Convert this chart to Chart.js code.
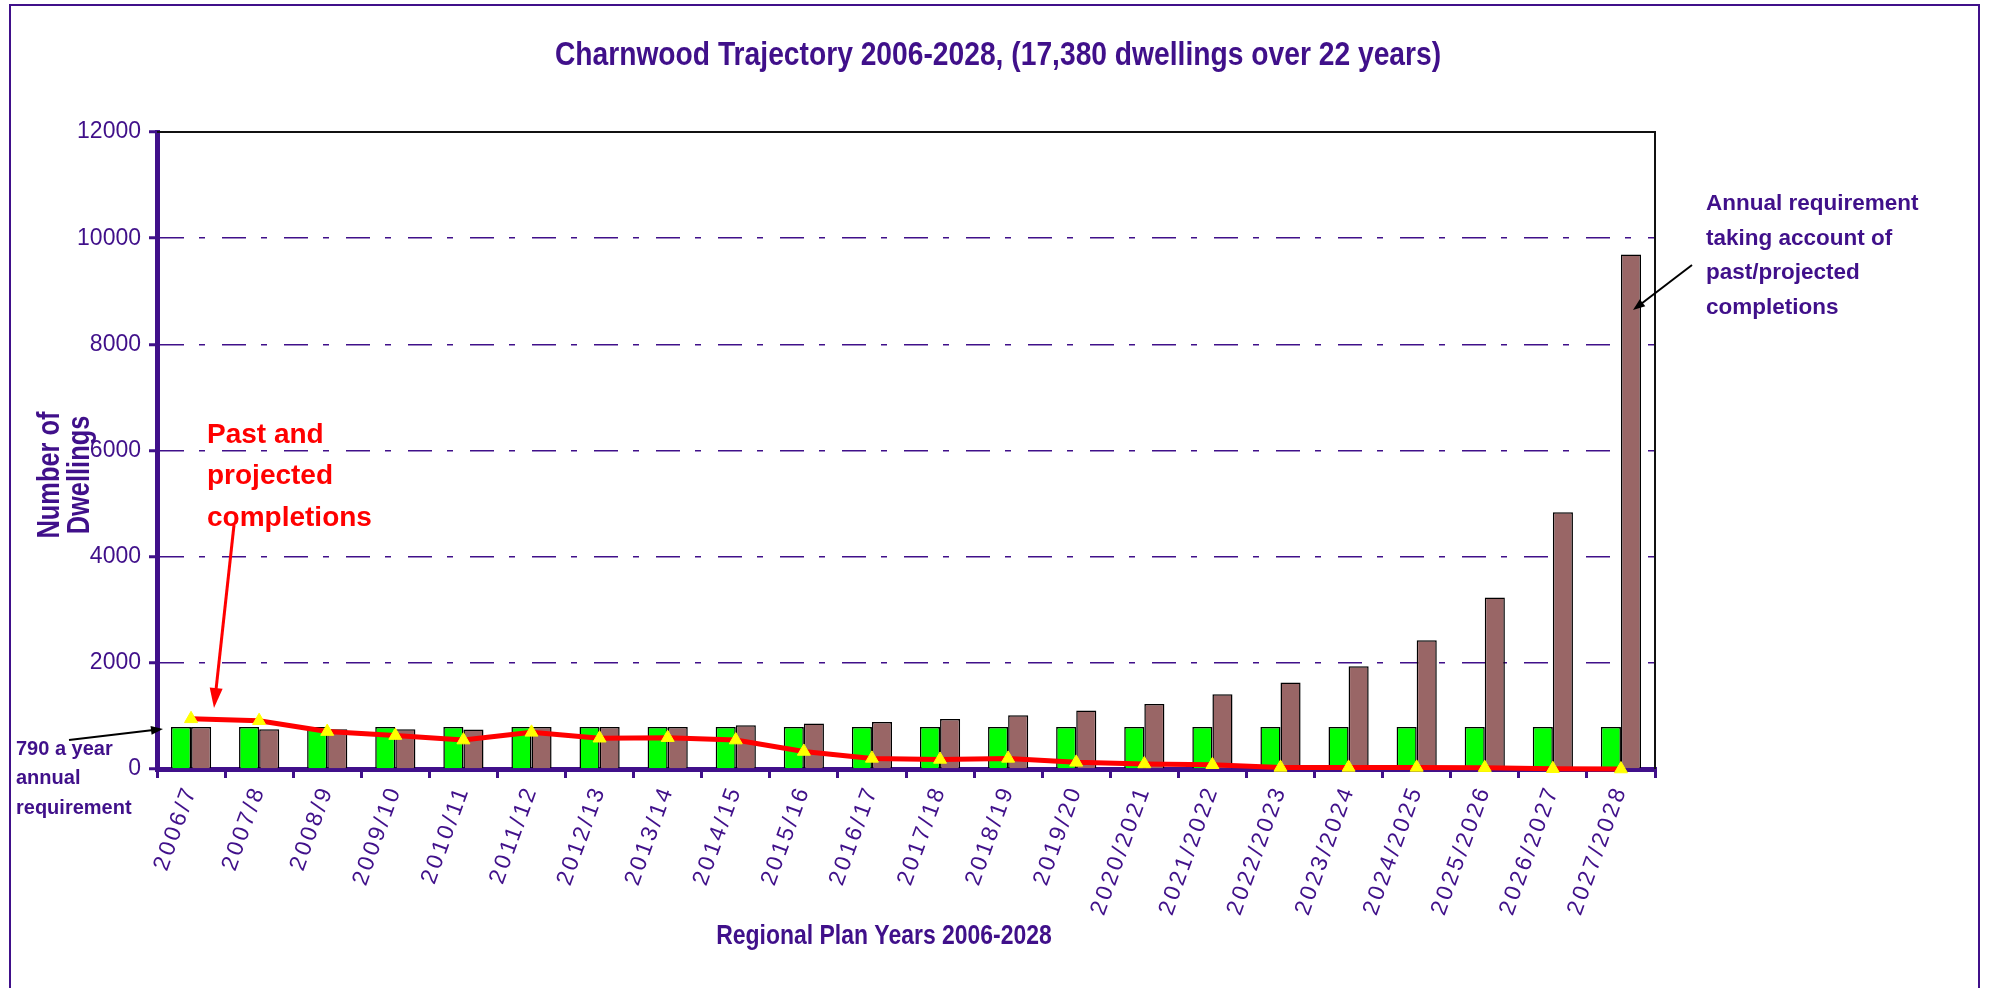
<!DOCTYPE html>
<html lang="en">
<head>
<meta charset="UTF-8" />
<title>Charnwood Trajectory 2006-2028</title>
<script src="https://cdn.jsdelivr.net/npm/chart.js"></script>
<style>
  html, body { margin: 0; padding: 0; background: #fff; }
  #wrap { width: 1993px; height: 988px; }
</style>
</head>
<body>
<div id="wrap"><canvas id="trajectoryChart" width="1993" height="988"></canvas></div>
<script>
// plan years on the x axis
const years = ["2006/7", "2007/8", "2008/9", "2009/10", "2010/11", "2011/12", "2012/13",
  "2013/14", "2014/15", "2015/16", "2016/17", "2017/18", "2018/19", "2019/20",
  "2020/2021", "2021/2022", "2022/2023", "2023/2024", "2024/2025", "2025/2026",
  "2026/2027", "2027/2028"];

// 790 a year annual requirement (green)
const annualRequirement = [790, 790, 790, 790, 790, 790, 790, 790, 790, 790, 790,
  790, 790, 790, 790, 790, 790, 790, 790, 790, 790, 790];

// requirement taking account of past/projected completions (brown)
const adjustedRequirement = [790, 750, 750, 750, 745, 790, 790, 790, 824, 855, 886,
  943, 1012, 1100, 1225, 1408, 1628, 1936, 2426, 3230, 4839, 9691];

// past and projected completions (red line)
const completions = [945, 910, 705, 630, 545, 690, 580, 590, 545, 330, 200,
  180, 200, 125, 95, 80, 30, 30, 30, 25, 5, 0];

const yTicks = [0, 2000, 4000, 6000, 8000, 10000, 12000];

const PURPLE = "#40108a";
const ARIAL = '"Liberation Sans", Arial, sans-serif';

function arrow(ctx, x1, y1, x2, y2, color, width, headLen, headWidth) {
  const a = Math.atan2(y2 - y1, x2 - x1);
  const c = Math.cos(a), s = Math.sin(a);
  ctx.save();
  ctx.strokeStyle = color;
  ctx.fillStyle = color;
  ctx.lineWidth = width;
  ctx.beginPath();
  ctx.moveTo(x1, y1);
  ctx.lineTo(x2 - c * headLen * 0.8, y2 - s * headLen * 0.8);
  ctx.stroke();
  ctx.beginPath();
  ctx.moveTo(x2, y2);
  ctx.lineTo(x2 - headLen * c + (headWidth / 2) * s, y2 - headLen * s - (headWidth / 2) * c);
  ctx.lineTo(x2 - headLen * c - (headWidth / 2) * s, y2 - headLen * s + (headWidth / 2) * c);
  ctx.closePath();
  ctx.fill();
  ctx.restore();
}

function lines(ctx, texts, x, y, step) {
  texts.forEach((t, i) => ctx.fillText(t, x, y + i * step));
}

// no narrow font available, so squeeze the bold one sideways
function narrowText(ctx, text, x, y, sx, angle) {
  ctx.save();
  ctx.translate(x, y);
  if (angle) ctx.rotate(angle);
  ctx.scale(sx, 1);
  ctx.fillText(text, 0, 0);
  ctx.restore();
}

// frame, titles, plot border and the notes round the chart
const decorations = {
  id: "decorations",
  beforeDraw(chart) {
    const ctx = chart.ctx;
    ctx.letterSpacing = "0px";
    ctx.save();
    ctx.fillStyle = "#fff";
    ctx.fillRect(0, 0, chart.width, chart.height);
    ctx.strokeStyle = PURPLE;
    ctx.lineWidth = 2;
    ctx.strokeRect(10, 5, 1969, 1100);
    ctx.restore();
  },
  afterDatasetsDraw(chart) {
    // x labels in the original are spaced out
    chart.ctx.letterSpacing = "3px";
  },
  afterDraw(chart) {
    const ctx = chart.ctx;
    const area = chart.chartArea;
    ctx.letterSpacing = "0px";
    ctx.save();

    // top and right plot border
    ctx.strokeStyle = "#111";
    ctx.lineWidth = 2;
    ctx.beginPath();
    ctx.moveTo(area.left, area.top);
    ctx.lineTo(area.right, area.top);
    ctx.lineTo(area.right, area.bottom);
    ctx.stroke();

    ctx.textBaseline = "middle";

    // chart title and axis titles
    ctx.fillStyle = PURPLE;
    ctx.textAlign = "center";
    ctx.font = "bold 34px " + ARIAL;
    narrowText(ctx, "Charnwood Trajectory 2006-2028, (17,380 dwellings over 22 years)", 998, 56, 0.83);
    ctx.font = "bold 28px " + ARIAL;
    narrowText(ctx, "Regional Plan Years 2006-2028", 884, 936, 0.82);
    ctx.font = "bold 31px " + ARIAL;
    narrowText(ctx, "Number of", 50, 475, 0.82, -Math.PI / 2);
    narrowText(ctx, "Dwellings", 80, 475, 0.82, -Math.PI / 2);

    ctx.textAlign = "left";
    ctx.fillStyle = "#ff0000";
    ctx.font = "bold 28px " + ARIAL;
    lines(ctx, ["Past and", "projected", "completions"], 207, 435, 41.5);
    arrow(ctx, 234, 525, 214, 708, "#ff0000", 3, 20, 13);

    ctx.fillStyle = PURPLE;
    ctx.font = "bold 20px " + ARIAL;
    lines(ctx, ["790 a year", "annual", "requirement"], 16, 749, 29.5);
    arrow(ctx, 69, 740, 163, 729, "#000", 2, 12, 9);

    ctx.font = "bold 22.5px " + ARIAL;
    lines(ctx, ["Annual requirement", "taking account of", "past/projected", "completions"], 1706, 204, 34.5);
    arrow(ctx, 1692, 265, 1633, 310, "#000", 2, 12, 9);
    ctx.restore();
  }
};

const ctx = document.getElementById("trajectoryChart").getContext("2d");
const trajectoryChart = new Chart(ctx, {
  data: {
    labels: years,
    datasets: [
      {
        type: "line",
        label: "Past and projected completions",
        data: completions,
        borderColor: "#ff0000",
        borderWidth: 5,
        tension: 0,
        pointStyle: "triangle",
        pointRadius: 7.5,
        pointBackgroundColor: "#ffff00",
        pointBorderColor: "#ffff00",
        pointBorderWidth: 1,
        clip: false,
        order: 0
      },
      {
        type: "bar",
        label: "790 a year annual requirement",
        data: annualRequirement,
        backgroundColor: "#00ff00",
        borderColor: "#000",
        borderWidth: 1.5,
        categoryPercentage: 0.59,
        barPercentage: 1.0,
        order: 1
      },
      {
        type: "bar",
        label: "Annual requirement taking account of past/projected completions",
        data: adjustedRequirement,
        backgroundColor: "#996666",
        borderColor: "#000",
        borderWidth: 1.5,
        categoryPercentage: 0.59,
        barPercentage: 1.0,
        order: 1
      }
    ]
  },
  options: {
    responsive: false,
    animation: false,
    devicePixelRatio: 1,
    layout: {
      padding: { top: 132, right: 338, bottom: 0, left: 0 }
    },
    plugins: {
      legend: { display: false },
      tooltip: { enabled: false },
      title: { display: false }
    },
    scales: {
      x: {
        afterFit: (scale) => { scale.height = 219; },
        grid: {
          offset: true,
          drawOnChartArea: false,
          color: PURPLE,
          lineWidth: 3,
          tickLength: 9
        },
        border: { color: PURPLE, width: 5 },
        ticks: {
          autoSkip: false,
          minRotation: 70,
          maxRotation: 70,
          padding: 4,
          color: PURPLE,
          z: 1,
          font: { family: ARIAL, size: 23 }
        }
      },
      y: {
        min: 0,
        max: 12000,
        afterFit: (scale) => { scale.width = 157; },
        afterBuildTicks: (scale) => { scale.ticks = yTicks.map((v) => ({ value: v })); },
        grid: {
          color: PURPLE,
          lineWidth: 1.5,
          tickColor: PURPLE,
          tickWidth: 3,
          tickLength: 8
        },
        border: { color: PURPLE, width: 5, dash: [24, 15, 6, 17] },
        ticks: {
          padding: 8,
          color: PURPLE,
          font: { family: ARIAL, size: 23 },
          callback: (value) => String(value)
        }
      }
    }
  },
  plugins: [decorations]
});
</script>
</body>
</html>
